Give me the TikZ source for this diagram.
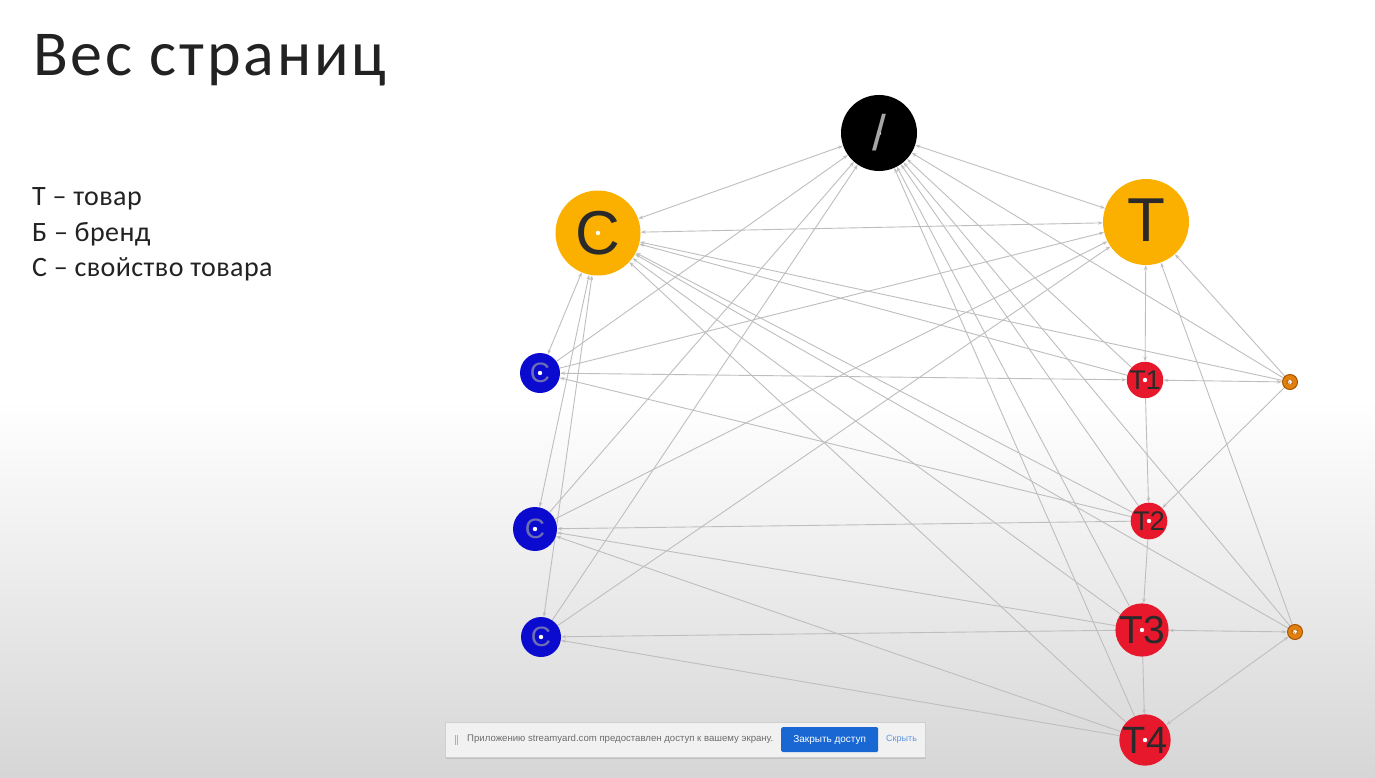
\documentclass[tikz,border=0pt]{standalone}
\usepackage{fontspec}
\setmainfont{Carlito}
\newfontfamily\arialf{Liberation Sans}
\usetikzlibrary{arrows.meta,shadows}
\definecolor{edgec}{HTML}{BEBEBE}
\definecolor{amber}{HTML}{FBB000}
\definecolor{bluen}{HTML}{0B0BD0}
\definecolor{bluelab}{HTML}{6E6EB4}
\definecolor{redn}{HTML}{E8182C}
\definecolor{brandn}{HTML}{E2800F}
\definecolor{brandr}{HTML}{A85400}
\definecolor{bluebtn}{HTML}{1967D2}
\definecolor{bargray}{HTML}{F1F1F1}
\definecolor{barline}{HTML}{CFCFCF}
\definecolor{bgbottom}{HTML}{D6D6D6}
\definecolor{txtgray}{HTML}{222222}
\definecolor{labdark}{HTML}{2A2A2A}
\pgfdeclarelayer{bgfill}
\pgfdeclarelayer{edges}
\pgfsetlayers{bgfill,edges,main}
\tikzset{
  pg/.style={circle,inner sep=0pt,font=\arialf,
    path picture={\fill[white] (path picture bounding box.center) circle (2.2pt);}},
  rootn/.style={pg,fill=black,minimum size=76pt,text=gray!70,font=\arialf\fontsize{50}{50}\selectfont},
  secn/.style={pg,fill=amber,minimum size=85pt,text=labdark,font=\arialf\fontsize{62}{62}\selectfont},
  propn/.style={pg,fill=bluen,text=bluelab,font=\arialf\fontsize{28}{28}\selectfont},
  prodn/.style={pg,fill=redn,text=labdark},
  brandnode/.style={pg,fill=brandn,draw=brandr,line width=1pt,minimum size=15pt,text=brandr,font=\arialf\fontsize{6}{6}\selectfont},
  tip/.tip={Stealth[length=5pt,width=3.5pt]},
  ln/.style={draw=edgec,line width=0.9pt,-tip},
  bi/.style={draw=edgec,line width=0.9pt,tip-tip},
  legtext/.style={anchor=base west,inner sep=0pt,text=txtgray,font=\addfontfeatures{LetterSpace=1.5}\fontsize{28}{32}\selectfont},
}
\begin{document}
\begin{tikzpicture}[x=1pt,y=-1pt]
\useasboundingbox (0,0) rectangle (1375,778);
\begin{pgfonlayer}{bgfill}
  \fill[white] (0,0) rectangle (1375,400);
  \shade[top color=white,bottom color=bgbottom] (0,399.5) rectangle (1375,778);
\end{pgfonlayer}

% title and legend
\node[anchor=base west,inner sep=0pt,text=txtgray,font=\addfontfeatures{LetterSpace=4.4}\fontsize{64}{72}\selectfont] (title) at (33,76) {Вес страниц};
\node[legtext] (leg1) at (32,205) {Т – товар};
\node[legtext] (leg2) at (32,241) {Б – бренд};
\node[legtext] (leg3) at (32,276) {С – свойство товара};

% nodes
\node[rootn] (root) at (879,133) {/};
\node[secn] (C) at (598,233) {C};
\node[secn,minimum size=86pt] (T) at (1146,222) {\raisebox{4pt}{T}};
\node[propn,minimum size=40pt] (c1) at (540,373) {C};
\node[propn,minimum size=44pt] (c2) at (535,529) {C};
\node[propn,minimum size=40pt] (c3) at (541,637) {C};
\node[prodn,minimum size=36pt,font=\arialf\fontsize{27}{27}\selectfont] (T1) at (1145,380) {T1};
\node[prodn,minimum size=36pt,font=\arialf\fontsize{27}{27}\selectfont] (T2) at (1149,521) {T2};
\node[prodn,minimum size=48pt,font=\arialf\fontsize{39}{39}\selectfont] (T3) at (1142,630) {T3};
\node[prodn,minimum size=45pt,font=\arialf\fontsize{38}{38}\selectfont] (T4) at (1145,740) {T4};
\node[brandnode] (b1) at (1290,382) {Б1};
\node[brandnode] (b2) at (1295,632) {Б2};

% edges
\begin{pgfonlayer}{edges}
  \draw[bi] (root) -- (C);
  \draw[bi] (root) -- (T);
  \draw[bi] (C) -- (T);
  \draw[bi] (C) -- (c1);
  \draw[bi] (C) -- (c2);
  \draw[bi] (C) -- (c3);
  \draw[bi] (T) -- (T1);
  \draw[bi] (T1) -- (c1);
  \draw[bi] (T1) -- (b1);
  \draw[bi] (T3) -- (b2);
  \draw[bi] (T4) -- (b2);
  \draw[ln] (b1) -- (T2);
  \foreach \s in {c1,c2,c3,T1,T2,T3,T4,b1,b2} {\draw[ln] (\s) -- (root);}
  \foreach \s in {c1,c2,c3,b1,b2} {\draw[ln] (\s) -- (T);}
  \foreach \s in {T1,T2,T3,T4,b1,b2} {\draw[ln] (\s) -- (C);}
  \draw[ln] (T1) -- (T2);
  \draw[ln] (T2) -- (T3);
  \draw[ln] (T3) -- (T4);
  \draw[ln] (T2) -- (c2);
  \draw[ln] (T2) -- (c1);
  \draw[ln] (T3) -- (c3);
  \draw[ln] (T3) -- (c2);
  \draw[ln] (T4) -- (c2);
  \draw[ln] (T4) -- (c3);
\end{pgfonlayer}

% screen sharing bar
\node[draw=barline,fill=bargray,drop shadow={opacity=0.25,shadow xshift=1pt,shadow yshift=-1.5pt},minimum width=480pt,minimum height=35pt,inner sep=0pt,anchor=north west] (bar) at (445,722) {};
\draw[gray!60,line width=0.7pt] ([xshift=10pt,yshift=-5pt]bar.west) -- ([xshift=10pt,yshift=5pt]bar.west);
\draw[gray!60,line width=0.7pt] ([xshift=12.5pt,yshift=-5pt]bar.west) -- ([xshift=12.5pt,yshift=5pt]bar.west);
\node[anchor=west,inner sep=0pt,text=gray!85!black,font=\arialf\fontsize{9.6}{11}\selectfont] (bartext) at (467,739.5) {Приложению streamyard.com предоставлен доступ к вашему экрану.};
\node[fill=bluebtn,rounded corners=1.5pt,minimum width=97pt,minimum height=25pt,inner sep=0pt,text=white,font=\arialf\fontsize{10}{11}\selectfont,anchor=north west] (btn) at (781,727) {Закрыть доступ};
\node[anchor=west,inner sep=0pt,text=bluebtn!70,font=\arialf\fontsize{9}{10}\selectfont] (hide) at (886,739.5) {Скрыть};
\end{tikzpicture}
\end{document}
